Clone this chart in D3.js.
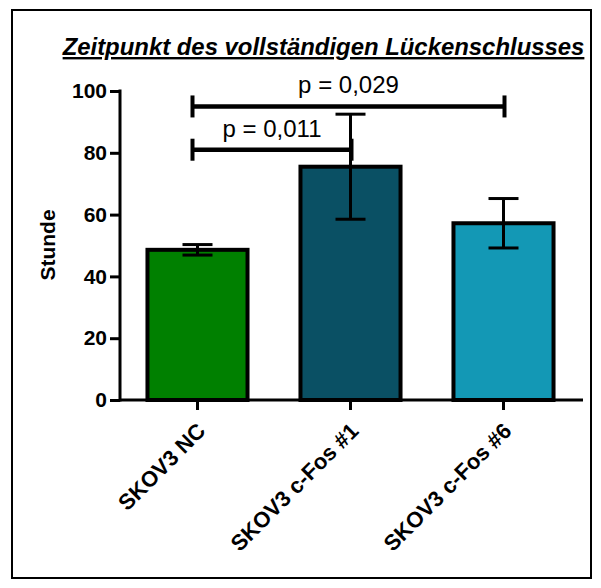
<!DOCTYPE html>
<html>
<head>
<meta charset="utf-8">
<script src="https://cdn.jsdelivr.net/npm/d3@7"></script>
<style>
  html, body { margin: 0; padding: 0; background: #fff; }
  svg { display: block; font-family: "Liberation Sans", Arial, sans-serif; }
</style>
</head>
<body>
<svg id="chart" width="601" height="588"></svg>
<script>
// Groups, means and error (± half-range) in hours
const categories = ["SKOV3 NC", "SKOV3 c-Fos #1", "SKOV3 c-Fos #6"];
const means = [48.6, 75.5, 57.2];
const errors = [1.7, 17, 8];
const barColors = ["#008000", "#0a5064", "#1398b5"];
const yTicks = [0, 20, 40, 60, 80, 100];

// Significance brackets: pairs of group indices, label, height (hours)
const sigPairs = [[0, 1], [0, 2]];
const sigLabels = ["p = 0,011", "p = 0,029"];
const sigLevels = [81, 95];

const titleText = "Zeitpunkt des vollständigen Lückenschlusses";
const yLabel = "Stunde";

const svg = d3.select("#chart");

// outer frame
svg.append("rect")
  .attr("x", 12).attr("y", 10)
  .attr("width", 579).attr("height", 568)
  .attr("fill", "none").attr("stroke", "#000").attr("stroke-width", 2);

const x = d3.scaleBand()
  .domain(categories)
  .range([121, 580])
  .paddingInner(0.346)
  .paddingOuter(0.173);

const y = d3.scaleLinear().domain([0, 100]).range([400, 91]);

// title
svg.append("text")
  .attr("x", 323.5).attr("y", 55)
  .attr("text-anchor", "middle")
  .attr("font-size", 23.9)
  .attr("font-weight", "bold")
  .attr("font-style", "italic")
  .attr("text-decoration", "underline")
  .text(titleText);

// bars
svg.append("g").selectAll("rect")
  .data(categories)
  .join("rect")
  .attr("x", d => x(d))
  .attr("width", x.bandwidth())
  .attr("y", (d, i) => y(means[i]))
  .attr("height", (d, i) => y(0) - y(means[i]))
  .attr("fill", (d, i) => barColors[i])
  .attr("stroke", "#000")
  .attr("stroke-width", 4);

// error bars
const eg = svg.append("g").attr("stroke", "#000").attr("stroke-width", 3);
categories.forEach((c, i) => {
  const cx = x(c) + x.bandwidth() / 2;
  const hi = y(means[i] + errors[i]);
  const lo = y(means[i] - errors[i]);
  eg.append("line").attr("x1", cx).attr("x2", cx).attr("y1", hi).attr("y2", lo);
  eg.append("line").attr("x1", cx - 15).attr("x2", cx + 15).attr("y1", hi).attr("y2", hi);
  eg.append("line").attr("x1", cx - 15).attr("x2", cx + 15).attr("y1", lo).attr("y2", lo);
});

// y axis
const yAxis = svg.append("g")
  .attr("transform", "translate(120,0)")
  .call(d3.axisLeft(y).tickValues(yTicks).tickSize(10).tickPadding(3).tickSizeOuter(0));
yAxis.select(".domain").attr("stroke-width", 3).attr("d", `M0,${y(100) - 1.5}V${y(0) + 1.5}`);
yAxis.selectAll(".tick line").attr("stroke-width", 3);
yAxis.selectAll(".tick text")
  .attr("font-size", 21).attr("font-weight", "bold")
  .attr("font-family", "Liberation Sans, Arial, sans-serif")
  .attr("fill", "#000");

// x axis
const xAxis = svg.append("g")
  .attr("transform", "translate(0,400)")
  .call(d3.axisBottom(x).tickSize(10).tickSizeOuter(0).tickPadding(4));
xAxis.select(".domain").attr("stroke-width", 3).attr("d", "M119,0H583");
xAxis.selectAll(".tick line").attr("stroke-width", 3);
xAxis.selectAll(".tick text")
  .attr("font-size", 22).attr("font-weight", "bold")
  .attr("font-family", "Liberation Sans, Arial, sans-serif")
  .attr("fill", "#000")
  .attr("text-anchor", "end")
  .attr("dy", "0.35em")
  .attr("transform", "translate(-6,17) rotate(-45)");

// y axis label
svg.append("text")
  .attr("transform", "translate(55,245) rotate(-90)")
  .attr("text-anchor", "middle")
  .attr("font-size", 21)
  .attr("font-weight", "bold")
  .text(yLabel);

// significance brackets
const sg = svg.append("g");
sigPairs.forEach((p, k) => {
  const x1 = x(categories[p[0]]) + x.bandwidth() / 2 - 5;
  const x2 = x(categories[p[1]]) + x.bandwidth() / 2 + 1;
  const yy = y(sigLevels[k]);
  sg.append("line").attr("x1", x1).attr("x2", x2).attr("y1", yy).attr("y2", yy)
    .attr("stroke", "#000").attr("stroke-width", 4.5);
  [x1, x2].forEach(xx => {
    sg.append("line").attr("x1", xx).attr("x2", xx).attr("y1", yy - 11).attr("y2", yy + 11)
      .attr("stroke", "#000").attr("stroke-width", 4);
  });
  sg.append("text")
    .attr("x", (x1 + x2) / 2).attr("y", yy - 13)
    .attr("text-anchor", "middle")
    .attr("font-size", 24)
    .text(sigLabels[k]);
});
</script>
</body>
</html>
